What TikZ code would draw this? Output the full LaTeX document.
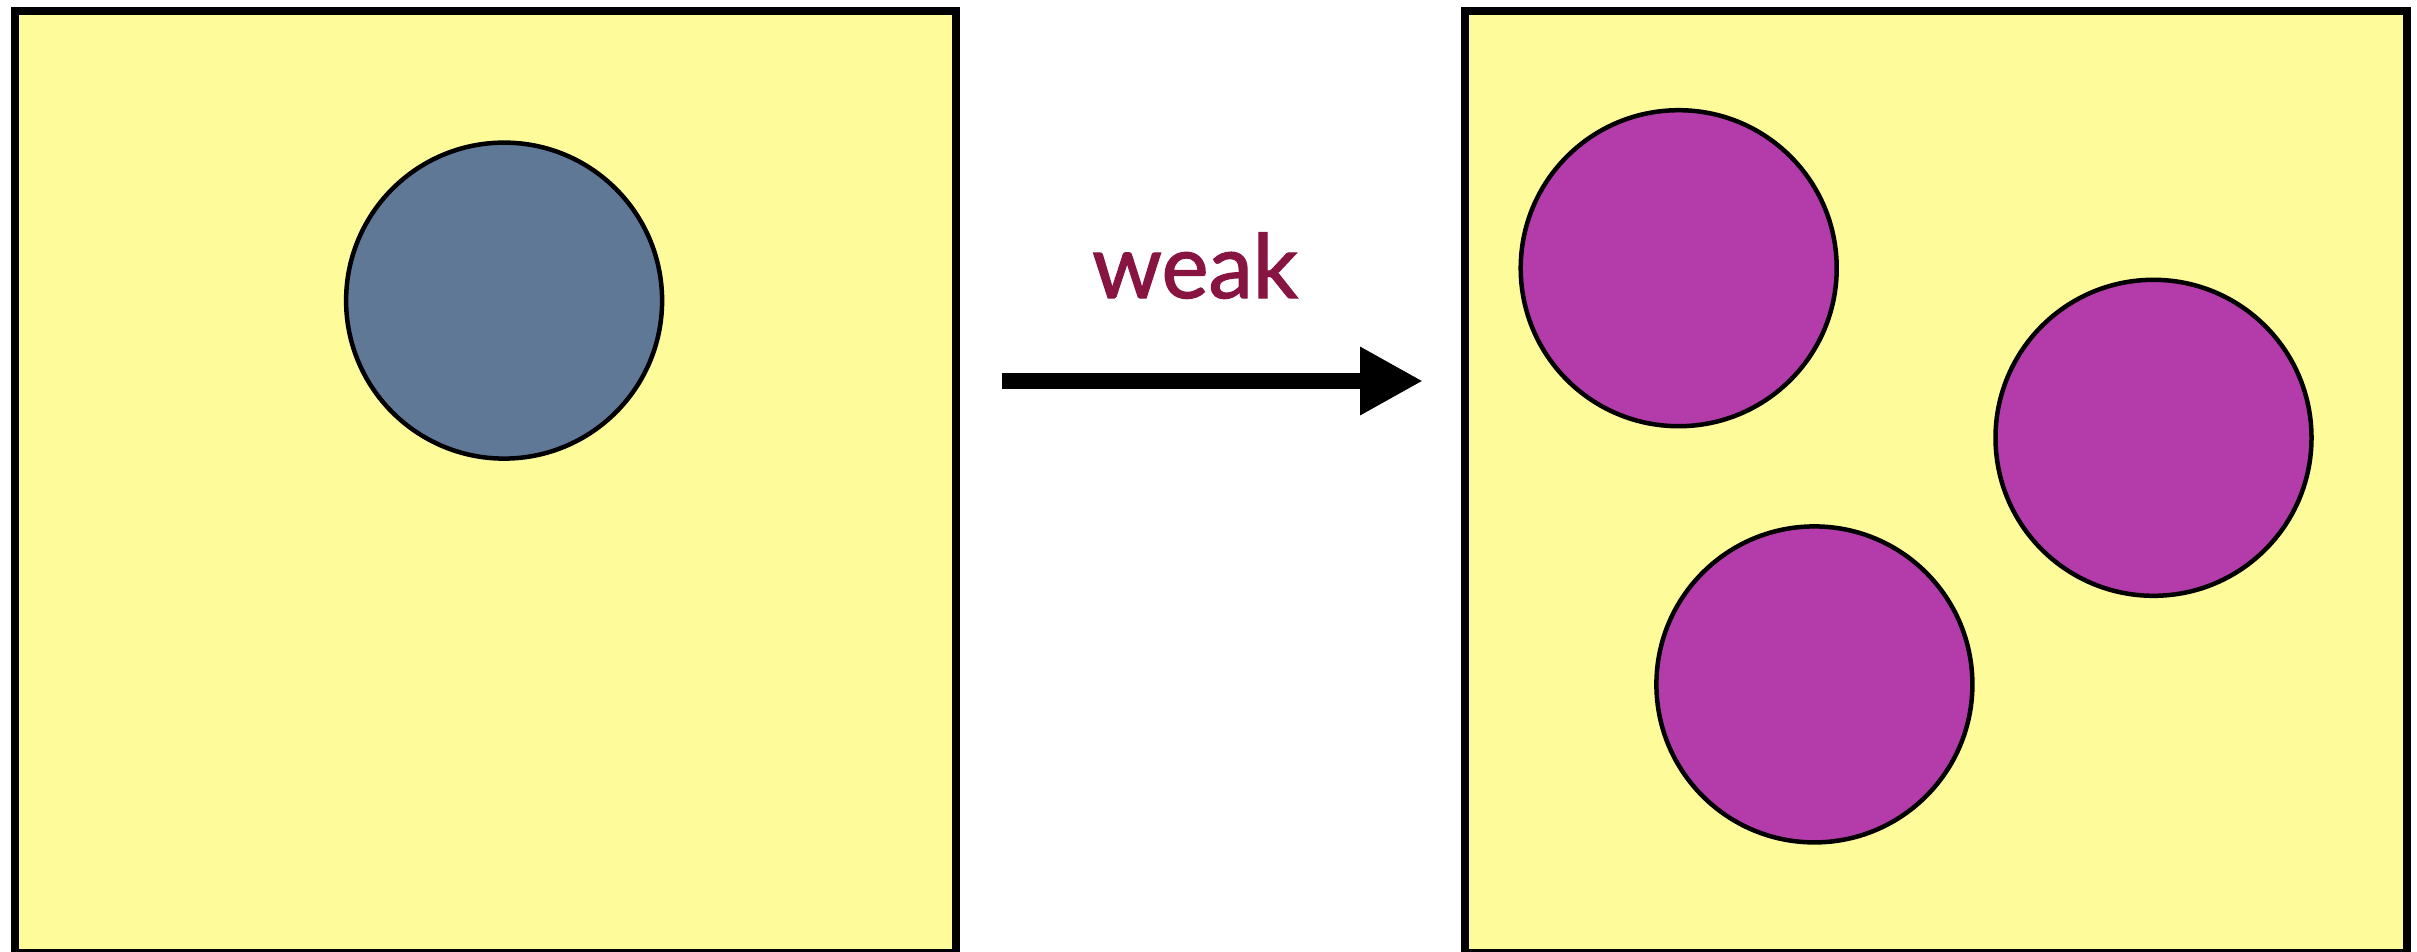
\documentclass[tikz,border=0pt]{standalone}
\usepackage{fontspec}
\setmainfont{Lato}
\newfontfamily\labelfont[FakeBold=1.5]{Lato}
\usetikzlibrary{arrows.meta}
\definecolor{paneyellow}{HTML}{FEFB9B}
\definecolor{slateblue}{HTML}{5F7896}
\definecolor{dropmagenta}{HTML}{B43CAA}
\definecolor{labelmaroon}{HTML}{871441}
\begin{document}
\begin{tikzpicture}[x=1pt,y=-1pt,
  panel/.style={draw=black, line width=8pt, fill=paneyellow, rectangle, inner sep=0pt},
  drop/.style={draw=black, line width=4.5pt, circle, inner sep=0pt, minimum size=316pt},
  bigarrow/.style={line width=16pt, -{Triangle[length=63pt,width=64pt]}}]
\useasboundingbox (0,0) rectangle (2417,951);
\node[panel, minimum width=940.5pt, minimum height=941.7pt] (leftpanel) at (485.25,482.15) {};
\node[panel, minimum width=942pt, minimum height=941.7pt] (rightpanel) at (1936,482.15) {};
\node[drop, fill=slateblue] (seed) at (504.1,300.6) {};
\node[drop, fill=dropmagenta] (d1) at (1678.7,268.2) {};
\node[drop, fill=dropmagenta] (d2) at (2153.5,437.8) {};
\node[drop, fill=dropmagenta] (d3) at (1814.4,684.4) {};
\coordinate (astart) at (1002,381);
\coordinate (aend) at (1423,381);
\draw[bigarrow] (astart) -- (aend);
\node[anchor=base, text=labelmaroon, font=\labelfont\fontsize{89}{100}\selectfont, inner sep=0pt] (lbl) at (1195,298) {weak};
\end{tikzpicture}
\end{document}
